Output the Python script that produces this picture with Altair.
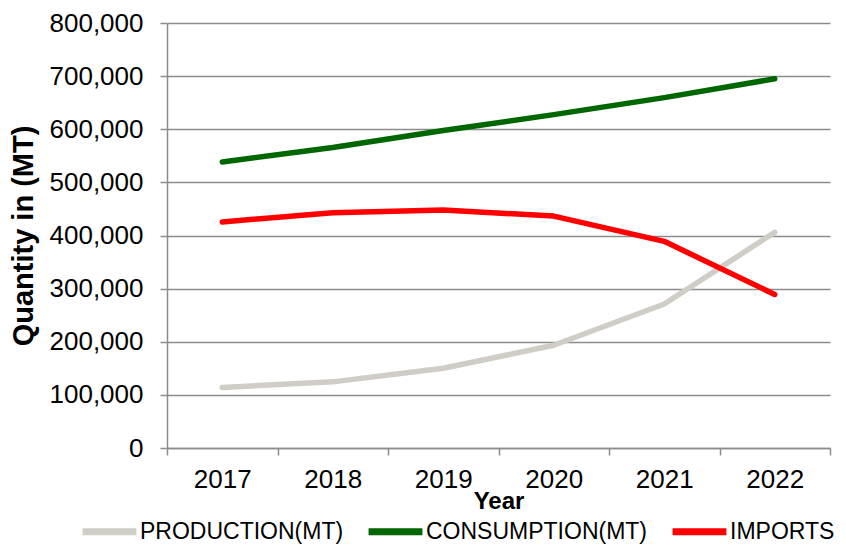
import altair as alt
import pandas as pd

years = ["2017", "2018", "2019", "2020", "2021", "2022"]
production = [114000, 124500, 150000, 193500, 271000, 406000]
consumption = [538500, 565500, 597500, 627500, 659500, 695000]
imports = [425500, 443000, 448000, 436500, 389000, 289000]

series_names = ["PRODUCTION(MT)", "CONSUMPTION(MT)", "IMPORTS"]
series_colors = ["#d0cdc6", "#006600", "#ff0000"]

rows = []
for name, vals in zip(series_names, [production, consumption, imports]):
    for y, v in zip(years, vals):
        rows.append({"Year": y, "Series": name, "Value": v})
df = pd.DataFrame(rows)

FONT = "Liberation Sans"

chart = alt.Chart(df).mark_line(strokeWidth=5.5, strokeCap="round", strokeJoin="round").encode(
    x=alt.X("Year:O", bandPosition=0.5,
            scale=alt.Scale(type="band", paddingInner=0, paddingOuter=0),
            axis=alt.Axis(title="Year", labelAngle=0, tickBand="extent", grid=False,
                          tickSize=7, labelPadding=11, titlePadding=-3,
                          labelFontSize=26, titleFontSize=24, titleFontWeight="bold")),
    y=alt.Y("Value:Q",
            scale=alt.Scale(domain=[0, 800000], nice=False),
            axis=alt.Axis(title="Quantity in (MT)", tickCount=8,
                          labelExpr="format(datum.value, ',')",
                          tickSize=7, labelPadding=17, titlePadding=11,
                          labelFontSize=26, titleFontSize=29, titleFontWeight="bold")),
    color=alt.Color("Series:N", sort=series_names,
                    scale=alt.Scale(domain=series_names, range=series_colors),
                    legend=alt.Legend(title=None, orient="none", direction="horizontal",
                                      legendX=-88, legendY=478,
                                      symbolType="stroke", symbolSize=2900,
                                      symbolStrokeWidth=7, labelFontSize=23,
                                      labelOffset=0, columnPadding=10, padding=0,
                                      labelLimit=400)),
).properties(
    width=663, height=425,
    autosize=alt.AutoSizeParams(type="none"),
    padding={"left": 159, "top": 15, "right": 8, "bottom": 97},
).configure_axis(
    labelFont=FONT, titleFont=FONT, labelColor="#000000", titleColor="#000000",
    domainColor="#8c8c8c", tickColor="#8c8c8c", gridColor="#8c8c8c",
    domainWidth=1.5, tickWidth=1.5, gridWidth=1.5,
).configure_legend(
    labelFont=FONT, labelColor="#000000",
).configure_view(stroke=None)

chart.save("out.html", embed_options={"renderer": "svg", "actions": False})
